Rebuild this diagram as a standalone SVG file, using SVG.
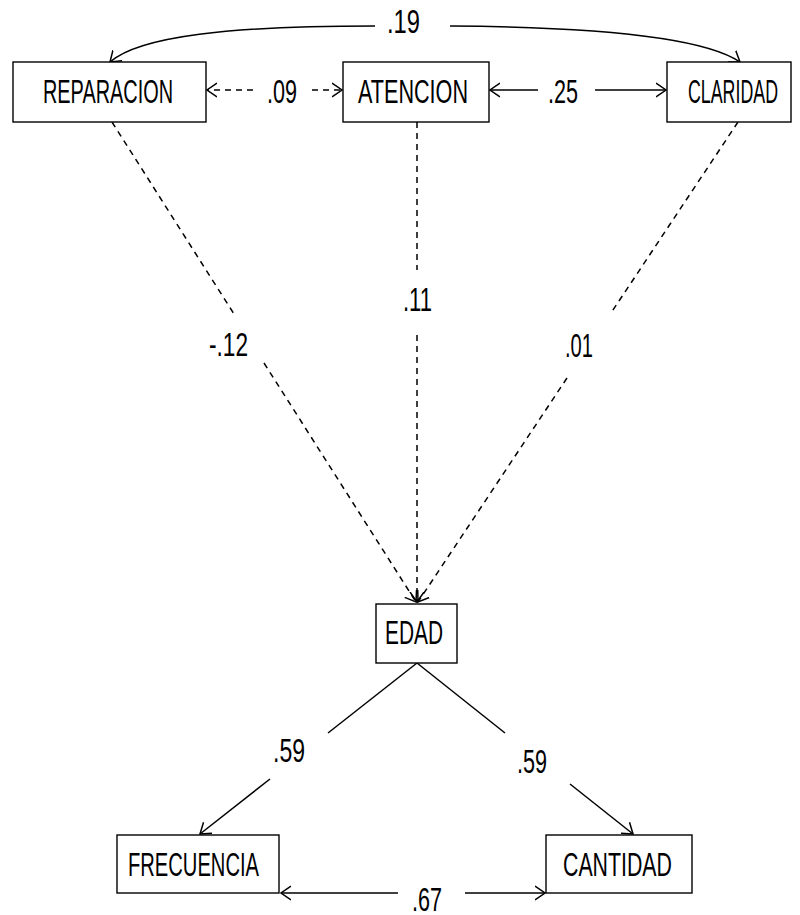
<svg xmlns="http://www.w3.org/2000/svg" width="800" height="915" viewBox="0 0 800 915">
  <style>
    .box { fill: #ffffff; stroke: #000000; stroke-width: 1.4; }
    .lbl { font-family: "Liberation Sans Narrow", "Liberation Sans", "DejaVu Sans Condensed", sans-serif; font-size: 34px; fill: #000000; }
    .edge { fill: none; stroke: #000000; stroke-width: 1.5; }
    .dash { stroke-dasharray: 6 5; }
  </style>
  <defs>
    <marker id="arrow" viewBox="0 0 11 16" refX="10" refY="8" markerWidth="11" markerHeight="16" markerUnits="userSpaceOnUse" orient="auto">
      <path d="M0,1 L10,8 L0,15" fill="none" stroke="#000000" stroke-width="1.5"/>
    </marker>
  </defs>

  <!-- connectors -->
  <g id="connectors">
    <!-- curved covariance REPARACION <-> CLARIDAD -->
    <path class="edge" d="M375,26 C230,26 140,36 110,62" marker-end="url(#arrow)"/>
    <path class="edge" d="M450,26 C600,27 705,38 740,62" marker-end="url(#arrow)"/>
    <!-- REPARACION <-> ATENCION (dashed) -->
    <path class="edge dash" d="M253,90 L207,90" marker-end="url(#arrow)"/>
    <path class="edge dash" d="M312,90 L342,90" marker-end="url(#arrow)"/>
    <!-- ATENCION <-> CLARIDAD -->
    <path class="edge" d="M538,90 L490,90" marker-end="url(#arrow)"/>
    <path class="edge" d="M595,90 L666,90" marker-end="url(#arrow)"/>
    <!-- paths into EDAD (dashed) -->
    <path class="edge dash" d="M112,122 L234,314"/>
    <path class="edge dash" d="M264,363 L416,602" marker-end="url(#arrow)"/>
    <path class="edge dash" d="M417,122 L417,270"/>
    <path class="edge dash" d="M417,335 L417,602" marker-end="url(#arrow)"/>
    <path class="edge dash" d="M738,122 L611,313"/>
    <path class="edge dash" d="M567,378 L418,602" marker-end="url(#arrow)"/>
    <!-- EDAD -> FRECUENCIA / CANTIDAD -->
    <path class="edge" d="M417,663 L328,733"/>
    <path class="edge" d="M270,779 L200,834" marker-end="url(#arrow)"/>
    <path class="edge" d="M417,663 L505,733"/>
    <path class="edge" d="M570,784 L633,834" marker-end="url(#arrow)"/>
    <!-- FRECUENCIA <-> CANTIDAD -->
    <path class="edge" d="M398,893 L281,893" marker-end="url(#arrow)"/>
    <path class="edge" d="M465,893 L545,893" marker-end="url(#arrow)"/>
  </g>

  <!-- coefficient labels -->
  <g id="coefficients">
    <text class="lbl" x="387" y="33" textLength="33" lengthAdjust="spacingAndGlyphs">.19</text>
    <text class="lbl" x="267" y="103" textLength="30" lengthAdjust="spacingAndGlyphs">.09</text>
    <text class="lbl" x="548" y="103" textLength="30" lengthAdjust="spacingAndGlyphs">.25</text>
    <text class="lbl" x="209" y="356" textLength="39" lengthAdjust="spacingAndGlyphs">-.12</text>
    <text class="lbl" x="403" y="311" textLength="29" lengthAdjust="spacingAndGlyphs">.11</text>
    <text class="lbl" x="565" y="357" textLength="28" lengthAdjust="spacingAndGlyphs">.01</text>
    <text class="lbl" x="273" y="762" textLength="32" lengthAdjust="spacingAndGlyphs">.59</text>
    <text class="lbl" x="517" y="773" textLength="30" lengthAdjust="spacingAndGlyphs">.59</text>
    <text class="lbl" x="412" y="911" textLength="30" lengthAdjust="spacingAndGlyphs">.67</text>
  </g>

  <!-- nodes -->
  <g id="reparacion">
    <rect class="box" x="13" y="62" width="193" height="60"/>
    <text class="lbl" x="43" y="103" textLength="130" lengthAdjust="spacingAndGlyphs">REPARACION</text>
  </g>
  <g id="atencion">
    <rect class="box" x="343" y="62" width="146" height="60"/>
    <text class="lbl" x="358" y="103" textLength="110" lengthAdjust="spacingAndGlyphs">ATENCION</text>
  </g>
  <g id="claridad">
    <rect class="box" x="667" y="62" width="124" height="60"/>
    <text class="lbl" x="688" y="103" textLength="90" lengthAdjust="spacingAndGlyphs">CLARIDAD</text>
  </g>
  <g id="edad">
    <rect class="box" x="376" y="604" width="81" height="59"/>
    <text class="lbl" x="385" y="644" textLength="58" lengthAdjust="spacingAndGlyphs">EDAD</text>
  </g>
  <g id="frecuencia">
    <rect class="box" x="117" y="835" width="162" height="58"/>
    <text class="lbl" x="128" y="876" textLength="131" lengthAdjust="spacingAndGlyphs">FRECUENCIA</text>
  </g>
  <g id="cantidad">
    <rect class="box" x="546" y="835" width="146" height="58"/>
    <text class="lbl" x="563" y="876" textLength="109" lengthAdjust="spacingAndGlyphs">CANTIDAD</text>
  </g>
</svg>
